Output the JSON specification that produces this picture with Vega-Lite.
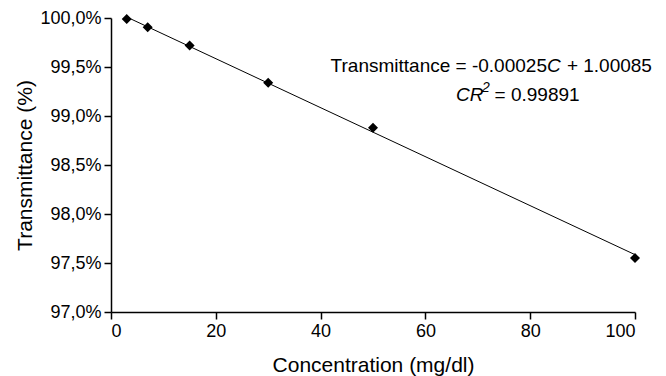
{
  "$schema": "https://vega.github.io/schema/vega-lite/v6.json",
  "width": 524,
  "height": 294,
  "autosize": {"type": "none"},
  "padding": {"left": 111, "top": 18, "right": 31, "bottom": 64},
  "background": "white",
  "config": {
    "view": {"stroke": null},
    "font": "Liberation Sans",
    "axis": {
      "domainColor": "black",
      "domainWidth": 1.5,
      "tickColor": "black",
      "tickWidth": 1.5,
      "tickSize": 7,
      "grid": false,
      "labelColor": "black",
      "labelFontSize": 18,
      "labelFont": "Liberation Sans",
      "titleColor": "black",
      "titleFont": "Liberation Sans",
      "titleFontSize": 21,
      "titleFontWeight": "normal"
    }
  },
  "layer": [
    {
      "data": {"values": [{"C": 3, "T": 100.01}, {"C": 100, "T": 97.585}]},
      "mark": {"type": "line", "color": "black", "strokeWidth": 1},
      "encoding": {
        "x": {"field": "C", "type": "quantitative", "scale": {"domain": [0, 100], "nice": false},
          "axis": {"values": [0, 20, 40, 60, 80, 100], "title": "Concentration (mg/dl)", "labelPadding": 3, "titlePadding": 14}},
        "y": {"field": "T", "type": "quantitative", "scale": {"domain": [97, 100], "nice": false, "zero": false},
          "axis": {"values": [97, 97.5, 98, 98.5, 99, 99.5, 100], "title": "Transmittance (%)", "labelPadding": 3, "titlePadding": 4,
            "labelExpr": "replace(format(datum.value, '.1f'), '.', ',') + '%'"}}
      }
    },
    {
      "data": {"values": [
        {"C": 3, "T": 99.99},
        {"C": 7, "T": 99.905},
        {"C": 15, "T": 99.72},
        {"C": 30, "T": 99.34},
        {"C": 50, "T": 98.88},
        {"C": 100, "T": 97.55}
      ]},
      "mark": {"type": "point", "shape": "diamond", "filled": true, "color": "black", "opacity": 1, "size": 100},
      "encoding": {
        "x": {"field": "C", "type": "quantitative"},
        "y": {"field": "T", "type": "quantitative"}
      }
    },
    {
      "data": {"values": [
        {"x": 83.2, "y": 99.449, "label": "Transmittance = -0.00025"}
      ]},
      "mark": {"type": "text", "align": "right", "baseline": "alphabetic", "fontSize": 19, "color": "black", "font": "Liberation Sans"},
      "encoding": {
        "x": {"field": "x", "type": "quantitative"},
        "y": {"field": "y", "type": "quantitative"},
        "text": {"field": "label"}
      }
    },
    {
      "data": {"values": [
        {"x": 87.0, "y": 99.449, "label": "+ 1.00085"},
        {"x": 73.2, "y": 99.153, "label": "= 0.99891"}
      ]},
      "mark": {"type": "text", "align": "left", "baseline": "alphabetic", "fontSize": 19, "color": "black", "font": "Liberation Sans"},
      "encoding": {
        "x": {"field": "x", "type": "quantitative"},
        "y": {"field": "y", "type": "quantitative"},
        "text": {"field": "label"}
      }
    },
    {
      "data": {"values": [
        {"x": 83.2, "y": 99.449, "label": "C"},
        {"x": 65.84, "y": 99.153, "label": "CR"}
      ]},
      "mark": {"type": "text", "align": "left", "baseline": "alphabetic", "fontSize": 19, "fontStyle": "italic", "color": "black", "font": "Liberation Sans"},
      "encoding": {
        "x": {"field": "x", "type": "quantitative"},
        "y": {"field": "y", "type": "quantitative"},
        "text": {"field": "label"}
      }
    },
    {
      "data": {"values": [
        {"x": 70.8, "y": 99.245, "label": "2"}
      ]},
      "mark": {"type": "text", "align": "left", "baseline": "alphabetic", "fontSize": 14, "fontStyle": "italic", "color": "black", "font": "Liberation Sans"},
      "encoding": {
        "x": {"field": "x", "type": "quantitative"},
        "y": {"field": "y", "type": "quantitative"},
        "text": {"field": "label"}
      }
    }
  ]
}
